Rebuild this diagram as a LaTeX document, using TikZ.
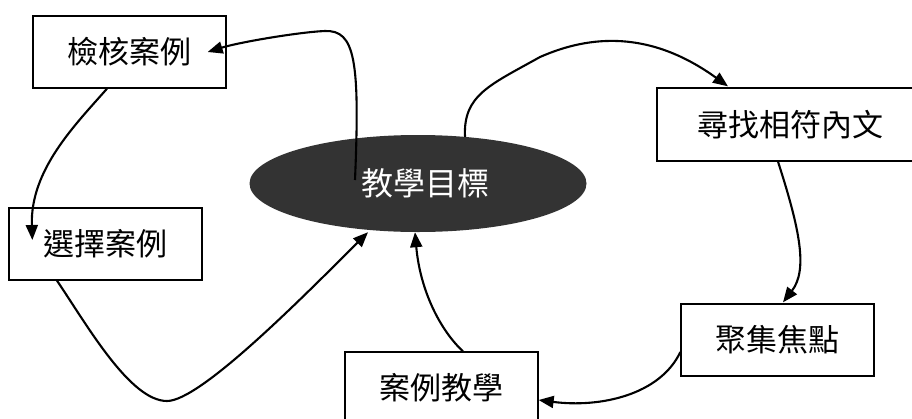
\documentclass[tikz,border=0pt]{standalone}
\usepackage{fontspec}
\newfontfamily\cjk{Noto Sans CJK TC}
\usetikzlibrary{arrows.meta,calc,shapes.geometric}
\definecolor{ellgray}{HTML}{333333}
\tikzset{
  stepbox/.style={draw=black,line width=1.3pt,fill=white,inner sep=0pt,
    minimum width=193pt,minimum height=72pt,font=\cjk\fontsize{31}{36}\selectfont},
  goal/.style={ellipse,fill=ellgray,inner sep=0pt,minimum width=337pt,minimum height=97pt,
    text=white,font=\cjk\fontsize{32}{36}\selectfont},
  conn/.style={line width=2.1pt,-{Triangle[length=15pt,width=12pt]}}
}
\begin{document}
\begin{tikzpicture}[x=1pt,y=-1pt]
\clip (0,0) rectangle (912,418);
\fill[white] (0,0) rectangle (912,418);
\node[goal] (G) at (418,183.5) {\raisebox{3.5pt}{\hspace{14pt}教學目標}};
\node[stepbox] (A) at (129.5,52) {檢核案例};
\node[stepbox] (B) at (105.5,244) {選擇案例};
\node[stepbox,minimum width=266pt,minimum height=73pt] (C) at (790,124.5) {尋找相符內文};
\node[stepbox] (D) at (777.5,340) {聚集焦點};
\node[stepbox] (E) at (441.5,388) {案例教學};
% connectors
\draw[conn] ($(G.center)+(-63,-3.5)$) .. controls (360,60) and (355,30) .. (325,31)
  .. controls (300,32) and (240,42) .. ($(A.east)+(-19,0)$);
\draw[conn] ($(A.south)+(-22.5,0)$) .. controls (75,125) and (30,170) .. ($(B.west)+(24,-4)$);
\draw[conn] ($(B.south)+(-48.5,0)$) .. controls (87,325) and (130,401) .. (167,401)
  .. controls (200,401) and (300,300) .. ($(G.south)+(-50,0)$);
\draw[conn] ($(E.north)+(21.5,0)$) .. controls (440,330) and (420,290) .. ($(G.south)+(-3,0)$);
\draw[conn] ($(D.west)+(0,12)$) .. controls (660,395) and (600,408) .. ($(E.east)+(0,12)$);
\draw[conn] ($(C.south)+(-12,0)$) .. controls (800,230) and (808,270) .. ($(D.north)+(5.5,-1)$);
\draw[conn] ($(G.north)+(47,2)$) .. controls (463,95) and (490,85) .. (540,57)
  .. controls (590,35) and (650,30) .. ($(C.north)+(-62,-1)$);
\end{tikzpicture}
\end{document}
